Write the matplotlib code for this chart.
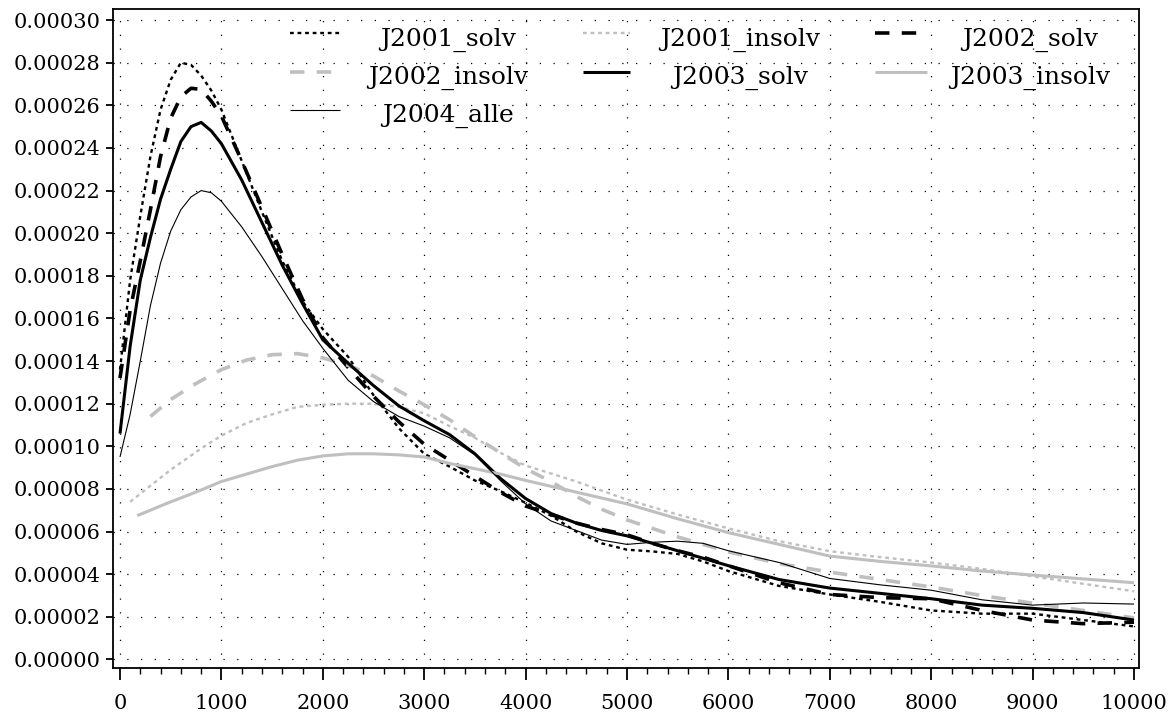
import matplotlib
matplotlib.use("Agg")
import matplotlib.pyplot as plt
from matplotlib.lines import Line2D
from matplotlib.ticker import MultipleLocator, FormatStrFormatter

SCALE = 1e-5  # values below are in units of 1e-5

# ---- data -------------------------------------------------------------
x_black = [0, 100, 200, 300, 400, 500, 600, 700, 800, 900, 1000, 1200, 1400,
           1600, 1800, 2000, 2250, 2500, 2750, 3000, 3250, 3500, 3750, 4000,
           4250, 4500, 4750, 5000, 5250, 5500, 5750, 6000, 6500, 7000, 7500,
           8000, 8500, 9000, 9500, 10000]

j2001_solv = [13.6, 17.8, 20.8, 23.6, 25.8, 27.2, 28.0, 27.9, 27.4, 26.7, 25.8,
              23.4, 21.0, 18.7, 16.8, 15.5, 14.2, 12.4, 10.85, 9.65, 9.05, 8.4,
              7.9, 7.35, 6.75, 6.0, 5.45, 5.15, 5.07, 4.95, 4.6, 4.15, 3.45,
              3.05, 2.7, 2.3, 2.15, 2.15, 1.85, 1.55]

j2002_solv = [13.2, 16.4, 18.7, 21.1, 23.6, 25.4, 26.4, 26.8, 26.75, 26.2, 25.5,
              23.4, 21.2, 19.0, 16.9, 15.1, 13.7, 12.35, 11.15, 10.1, 9.35, 8.6,
              7.85, 7.2, 6.8, 6.4, 6.1, 5.85, 5.45, 5.1, 4.8, 4.4, 3.6, 3.05,
              2.9, 2.85, 2.3, 1.85, 1.68, 1.75]

j2003_solv = [10.6, 14.7, 17.8, 19.8, 21.6, 23.0, 24.3, 25.0, 25.2, 24.8, 24.2,
              22.5, 20.5, 18.5, 16.7, 15.0, 13.9, 12.85, 11.9, 11.2, 10.55, 9.65,
              8.5, 7.55, 6.85, 6.4, 6.05, 5.8, 5.45, 5.1, 4.75, 4.4, 3.75, 3.35,
              3.1, 2.85, 2.55, 2.4, 2.2, 1.85]

j2004_alle = [9.5, 11.5, 14.0, 16.6, 18.6, 20.1, 21.1, 21.7, 22.0, 21.9, 21.5,
              20.3, 18.9, 17.4, 15.9, 14.6, 13.1, 12.1, 11.4, 10.95, 10.4, 9.6,
              8.4, 7.3, 6.5, 6.05, 5.6, 5.4, 5.5, 5.55, 5.45, 5.1, 4.55, 3.8,
              3.5, 3.25, 2.8, 2.55, 2.65, 2.6]

x_2001_insolv = [100, 300, 500, 800, 1000, 1250, 1500, 1750, 2000, 2250, 2500,
                 2750, 3000, 3250, 3500, 3750, 4000, 4500, 5000, 5500, 6000,
                 6500, 7000, 7500, 8000, 8500, 9000, 9500, 10000]
j2001_insolv = [7.4, 8.15, 8.9, 9.9, 10.5, 11.1, 11.5, 11.85, 11.95, 12.0, 12.0,
                11.85, 11.55, 10.95, 10.4, 9.7, 9.1, 8.35, 7.5, 6.8, 6.15, 5.55,
                5.08, 4.8, 4.55, 4.25, 3.9, 3.55, 3.2]

x_2002_insolv = [300, 500, 750, 1000, 1250, 1500, 1750, 2000, 2250, 2500, 2750,
                 3000, 3250, 3500, 3750, 4000, 4250, 4500, 4750, 5000, 5500,
                 6000, 6500, 7000, 7500, 8000, 8500, 9000, 9500, 10000]
j2002_insolv = [11.4, 12.2, 12.95, 13.6, 14.05, 14.3, 14.35, 14.15, 13.8, 13.3,
                12.6, 11.95, 11.25, 10.45, 9.7, 8.95, 8.35, 7.65, 7.05, 6.55,
                5.75, 5.05, 4.5, 4.1, 3.75, 3.4, 3.0, 2.64, 2.3, 1.95]

x_2003_insolv = [170, 450, 800, 1000, 1250, 1500, 1750, 2000, 2250, 2500, 2750,
                 3000, 3250, 3500, 3750, 4000, 4500, 5000, 5500, 6000, 6500,
                 7000, 7500, 8000, 8500, 9000, 9500, 10000]
j2003_insolv = [6.75, 7.3, 7.95, 8.35, 8.7, 9.05, 9.35, 9.55, 9.65, 9.65, 9.6,
                9.5, 9.2, 8.95, 8.7, 8.4, 7.85, 7.3, 6.6, 5.95, 5.4, 4.85, 4.6,
                4.39, 4.15, 3.96, 3.78, 3.6]

labels = ["J2001_solv", "J2001_insolv", "J2002_solv", "J2002_insolv",
          "J2003_solv", "J2003_insolv", "J2004_alle"]

# ---- styles -----------------------------------------------------------
GREY = "#bfbfbf"
DOT = (0, (1.6, 1.6))
DASH = (0, (4.0, 3.4))
styles = {
    "J2001_solv":   dict(color="black", lw=1.7, ls=DOT),
    "J2001_insolv": dict(color=GREY, lw=1.7, ls=DOT),
    "J2002_solv":   dict(color="black", lw=2.6, ls=DASH),
    "J2002_insolv": dict(color=GREY, lw=2.6, ls=DASH),
    "J2003_solv":   dict(color="black", lw=2.2, ls="-"),
    "J2003_insolv": dict(color=GREY, lw=2.2, ls="-"),
    "J2004_alle":   dict(color="black", lw=0.8, ls="-"),
}
series = {
    "J2001_solv": (x_black, j2001_solv),
    "J2001_insolv": (x_2001_insolv, j2001_insolv),
    "J2002_solv": (x_black, j2002_solv),
    "J2002_insolv": (x_2002_insolv, j2002_insolv),
    "J2003_solv": (x_black, j2003_solv),
    "J2003_insolv": (x_2003_insolv, j2003_insolv),
    "J2004_alle": (x_black, j2004_alle),
}

FONT = "DejaVu Serif"
W, H = 1175, 715
fig = plt.figure(figsize=(W / 100, H / 100), dpi=100)
AX_L, AX_R, AX_T, AX_B = 113, 1139, 9, 668
ax = fig.add_axes([AX_L / W, 1 - AX_B / H, (AX_R - AX_L) / W, (AX_B - AX_T) / H])

for name in labels:
    xs, ys = series[name]
    st = styles[name]
    ax.plot(xs, [v * SCALE for v in ys], color=st["color"], lw=st["lw"],
            linestyle=st["ls"], solid_capstyle="butt", dash_capstyle="butt",
            zorder=3)

ax.set_xlim(-69, 10049)
ax.set_ylim(-0.40e-5, 30.52e-5)

ax.xaxis.set_major_locator(MultipleLocator(1000))
ax.xaxis.set_minor_locator(MultipleLocator(200))
ax.yaxis.set_major_locator(MultipleLocator(2e-5))
ax.yaxis.set_major_formatter(FormatStrFormatter("%.5f"))
ax.xaxis.set_major_formatter(FormatStrFormatter("%d"))

ax.grid(True, which="major", color="black", linestyle=(0, (1, 10)), lw=0.9)
ax.set_axisbelow(True)

for sp in ax.spines.values():
    sp.set_linewidth(1.3)

ax.tick_params(axis="x", which="major", direction="out", length=8.5, width=1.3,
               pad=10.5, labelsize=15)
ax.tick_params(axis="x", which="minor", direction="out", length=4.5, width=1.0)
ax.tick_params(axis="y", which="major", direction="out", length=5, width=1.3,
               pad=4, labelsize=15)
for lab in ax.get_xticklabels() + ax.get_yticklabels():
    lab.set_family(FONT)

# ---- legend (manual, 3 columns, centred text) --------------------------
def fx(px):
    return (px - AX_L) / (AX_R - AX_L)

def fy(py):
    return (AX_B - py) / (AX_B - AX_T)

col_handles = [(290, 340), (583, 630), (875, 927)]
col_text = [448, 740, 1030]
row_handle_y = [33, 72, 110]
row_base_y = [46, 84, 122]
for i, name in enumerate(labels):
    r, c = divmod(i, 3)
    st = styles[name]
    x1, x2 = col_handles[c]
    ax.add_line(Line2D([fx(x1), fx(x2)], [fy(row_handle_y[r])] * 2,
                       transform=ax.transAxes, color=st["color"], lw=st["lw"],
                       linestyle=st["ls"], solid_capstyle="butt",
                       dash_capstyle="butt", zorder=5))
    ax.text(fx(col_text[c]), fy(row_base_y[r]), name, transform=ax.transAxes,
            ha="center", va="baseline", fontsize=18, family=FONT, zorder=5)

fig.savefig("out.png", dpi=100)
